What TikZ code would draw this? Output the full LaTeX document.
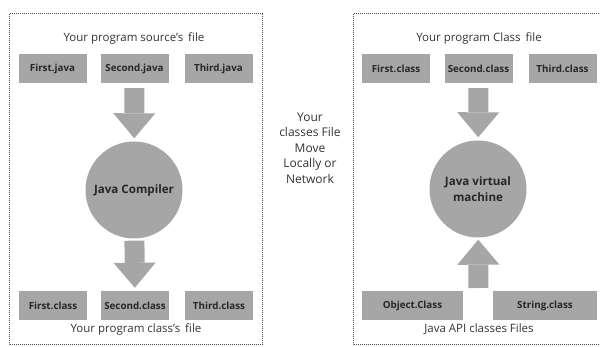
\documentclass[tikz,border=0pt]{standalone}
\usepackage{fontspec}
\setmainfont{Open Sans}
\usetikzlibrary{arrows.meta,positioning}
\definecolor{boxgray}{HTML}{A6A6A6}
\definecolor{inkgray}{HTML}{333333}

\begin{document}
\begin{tikzpicture}[x=1pt,y=-1pt,
  file/.style={fill=boxgray,minimum width=68pt,minimum height=29pt,inner sep=0pt,
    font=\fontsize{9.8}{11}\selectfont\bfseries,text=black!85},
  engine/.style={circle,fill=boxgray,minimum size=97pt,inner sep=0pt,align=center,
    font=\fontsize{11.6}{16}\selectfont\bfseries,text=black!85},
  caption/.style={font=\fontsize{11.5}{13}\selectfont,text=inkgray,align=center},
  fat/.style={line width=20pt,draw=boxgray,
    -{Triangle[length=25pt,width=42pt,line width=0pt]}},
  frame/.style={draw=black!70,densely dotted,line width=1pt}]
\useasboundingbox (0,0) rectangle (600,347);
% the two dotted frames
\draw[frame] (9,14) rectangle (262,345);
\draw[frame] (353,14) rectangle (606,345);
% compiling side
\node[caption] (src) at (134,38) {Your program source's\, file};
\node[file] (fj) at (52.5,69) {First.java};
\node[file] (sj) at (134.5,68.5) {Second.java};
\node[file] (tj) at (218.5,68.5) {Third.java};
\node[engine] (jc) at (134,190) {Java Compiler};
\node[file] (fc) at (53,306) {First.class};
\node[file] (sc) at (135,305.5) {Second.class};
\node[file] (tc) at (219,305.5) {Third.class};
\node[caption] (out) at (136,329) {Your program class’s\, file};
\draw[fat,shorten <=5pt,shorten >=3pt] (sj) -- (jc);
\draw[fat,shorten <=2pt,shorten >=3pt] (jc) -- (sc);
% middle note
\node[caption,font=\fontsize{12}{15.5}\selectfont] (move) at (310,148)
  {Your\\classes File\\Move\\Locally or\\Network};
% running side
\node[caption] (cls) at (479,38) {Your program Class\, file};
\node[file] (fc2) at (396,69) {First.class};
\node[file] (sc2) at (478.5,68.5) {Second.class};
\node[file] (tc2) at (562.5,68.5) {Third.class};
\node[engine] (jvm) at (478,189) {Java virtual\\machine};
\node[file,minimum width=101pt] (oc) at (412.5,306) {Object.Class};
\node[file,minimum width=104pt] (str) at (545,306) {String.class};
\node[caption] (api) at (479,329) {Java API classes Files};
\draw[fat,shorten <=5pt,shorten >=3pt] (sc2) -- (jvm);
\coordinate (apitop) at (478.5,291);
\draw[fat,shorten <=3pt,shorten >=2pt] (apitop) -- (jvm);
\end{tikzpicture}
\end{document}
